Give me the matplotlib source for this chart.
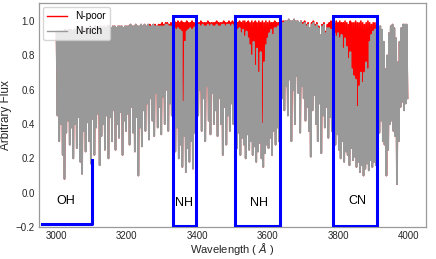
import numpy as np
import matplotlib
matplotlib.use("Agg")
import matplotlib.pyplot as plt
from matplotlib.patches import Rectangle

plt.rcParams['font.family'] = ['Liberation Sans', 'DejaVu Sans']

# Spectrum sampled every 5 A from 3000 A; each sample is the upper envelope
# (pseudo-continuum) and the deepest line core inside that 5 A bin.
wave_start, wave_step = 3000, 5

poor_top = [
    0.93, 0.94, 0.93, 0.94, 0.94, 0.95, 0.94, 0.95, 0.95, 0.94,
    0.95, 0.95, 0.96, 0.95, 0.95, 0.96, 0.95, 0.96, 0.96, 0.95,
    0.96, 0.96, 0.97, 0.96, 0.96, 0.97, 0.96, 0.97, 0.96, 0.97,
    0.97, 0.96, 0.97, 0.97, 0.96, 0.97, 0.97, 0.97, 0.96, 0.97,
    0.97, 0.97, 0.98, 0.97, 0.97, 0.98, 0.97, 0.97, 0.98, 0.97,
    0.98, 0.97, 0.98, 0.98, 0.97, 0.98, 0.98, 0.97, 0.98, 0.98,
    0.99, 0.98, 0.99, 0.99, 0.98, 0.99, 0.99, 1.00, 0.99, 1.00,
    0.99, 1.00, 0.99, 0.99, 1.00, 0.99, 0.99, 1.00, 0.99, 0.99,
    0.99, 0.99, 1.00, 0.99, 0.99, 0.99, 1.00, 0.99, 0.99, 0.99,
    0.99, 1.00, 0.99, 0.99, 0.99, 1.00, 0.99, 0.99, 1.00, 0.99,
    1.00, 0.99, 1.00, 0.99, 1.00, 0.99, 1.00, 1.00, 0.99, 1.00,
    0.99, 1.00, 0.99, 1.00, 0.99, 1.00, 0.99, 1.00, 0.99, 1.00,
    0.99, 1.00, 0.99, 0.99, 1.00, 0.99, 0.99, 1.00, 1.00, 1.00,
    1.00, 1.00, 1.01, 1.00, 1.00, 1.01, 1.00, 1.00, 0.99, 1.00,
    0.99, 1.00, 0.98, 0.99, 0.96, 0.99, 1.00, 0.98, 0.99, 0.97,
    0.92, 0.98, 0.99, 0.94, 0.98, 0.99, 1.00, 0.99, 0.99, 1.00,
    0.99, 1.00, 0.99, 0.99, 1.00, 0.99, 0.98, 1.00, 0.99, 0.99,
    1.00, 0.99, 0.99, 1.00, 0.99, 0.98, 0.99, 1.00, 0.99, 0.98,
    0.99, 0.99, 0.98, 0.97, 0.97, 0.95, 0.88, 0.72, 0.80, 0.93,
    0.97, 0.98, 0.96, 0.90, 0.76, 0.88, 0.96, 0.98, 0.98, 0.98,
]

rich_top = [
    0.93, 0.94, 0.93, 0.94, 0.94, 0.95, 0.94, 0.95, 0.95, 0.94,
    0.95, 0.95, 0.96, 0.95, 0.95, 0.96, 0.95, 0.96, 0.96, 0.95,
    0.96, 0.96, 0.97, 0.96, 0.96, 0.97, 0.96, 0.97, 0.96, 0.97,
    0.97, 0.96, 0.97, 0.97, 0.96, 0.97, 0.97, 0.97, 0.96, 0.97,
    0.97, 0.97, 0.98, 0.97, 0.97, 0.98, 0.97, 0.97, 0.98, 0.97,
    0.98, 0.97, 0.98, 0.97, 0.97, 0.98, 0.97, 0.97, 0.97, 0.97,
    0.97, 0.97, 0.98, 0.98, 0.97, 0.97, 0.97, 0.96, 0.95, 0.96,
    0.95, 0.94, 0.53, 0.88, 0.94, 0.95, 0.96, 0.95, 0.96, 0.97,
    0.97, 0.98, 0.97, 0.98, 0.97, 0.97, 0.98, 0.97, 0.98, 0.97,
    0.97, 0.98, 0.97, 0.97, 0.98, 0.98, 0.97, 0.98, 0.98, 0.97,
    0.98, 0.97, 0.96, 0.95, 0.96, 0.93, 0.95, 0.91, 0.94, 0.90,
    0.86, 0.80, 0.88, 0.74, 0.84, 0.70, 0.82, 0.40, 0.76, 0.86,
    0.90, 0.93, 0.95, 0.92, 0.96, 0.96, 0.97, 0.97, 0.99, 0.99,
    1.00, 1.00, 1.01, 1.00, 1.00, 1.01, 1.00, 1.00, 0.99, 1.00,
    0.98, 0.99, 0.97, 0.98, 0.96, 0.98, 0.99, 0.97, 0.98, 0.96,
    0.92, 0.97, 0.98, 0.93, 0.96, 0.96, 0.95, 0.94, 0.93, 0.91,
    0.93, 0.90, 0.92, 0.84, 0.90, 0.85, 0.78, 0.82, 0.72, 0.68,
    0.66, 0.50, 0.62, 0.70, 0.64, 0.70, 0.76, 0.72, 0.88, 0.92,
    0.94, 0.95, 0.96, 0.97, 0.97, 0.95, 0.88, 0.72, 0.80, 0.93,
    0.97, 0.98, 0.96, 0.90, 0.76, 0.88, 0.96, 0.98, 0.98, 0.98,
]

rich_low = [
    0.45, 0.30, 0.40, 0.22, 0.08, 0.35, 0.42, 0.28, 0.38, 0.20,
    0.40, 0.26, 0.44, 0.18, 0.11, 0.36, 0.24, 0.41, 0.30, 0.17,
    0.43, 0.22, 0.38, 0.46, 0.16, 0.33, 0.40, 0.25, 0.45, 0.20,
    0.44, 0.30, 0.48, 0.25, 0.40, 0.32, 0.47, 0.22, 0.42, 0.36,
    0.46, 0.28, 0.50, 0.35, 0.24, 0.44, 0.10, 0.38, 0.27, 0.48,
    0.36, 0.52, 0.31, 0.55, 0.42, 0.33, 0.58, 0.38, 0.50, 0.34,
    0.56, 0.40, 0.60, 0.36, 0.52, 0.45, 0.32, 0.24, 0.38, 0.20,
    0.28, 0.15, 0.33, 0.12, 0.26, 0.18, 0.30, 0.14, 0.35, 0.22,
    0.45, 0.60, 0.36, 0.55, 0.30, 0.62, 0.42, 0.34, 0.58, 0.40,
    0.48, 0.33, 0.55, 0.40, 0.22, 0.50, 0.28, 0.45, 0.36, 0.52,
    0.40, 0.30, 0.26, 0.35, 0.22, 0.32, 0.28, 0.20, 0.34, 0.25,
    0.30, 0.22, 0.27, 0.18, 0.24, 0.29, 0.20, 0.15, 0.23, 0.28,
    0.26, 0.32, 0.22, 0.36, 0.28, 0.38, 0.30, 0.42, 0.55, 0.48,
    0.62, 0.45, 0.66, 0.30, 0.60, 0.40, 0.68, 0.58, 0.35, 0.62,
    0.55, 0.42, 0.50, 0.36, 0.21, 0.48, 0.57, 0.40, 0.30, 0.52,
    0.23, 0.45, 0.38, 0.50, 0.32, 0.44, 0.36, 0.30, 0.28, 0.34,
    0.25, 0.20, 0.30, 0.18, 0.24, 0.22, 0.16, 0.26, 0.19, 0.21,
    0.15, 0.18, 0.12, 0.16, 0.10, 0.14, 0.17, 0.13, 0.19, 0.15,
    0.18, 0.16, 0.22, 0.35, 0.42, 0.30, 0.28, 0.10, 0.25, 0.40,
    0.42, 0.36, 0.33, 0.05, 0.30, 0.50, 0.53, 0.48, 0.52, 0.55,
]
# the N-poor line cores lie under the N-rich ones everywhere
poor_low = rich_low

# feature boxes
box_left = [3330, 3506, 3787]
box_right = [3397, 3636, 3911]
box_bottom = -0.195
box_top = 1.03
oh_x = [2958, 3100, 3100]
oh_y = [-0.183, -0.183, 0.19]
labels = ['OH', 'NH', 'NH', 'CN']
label_x = [3025, 3362, 3574, 3856]
label_y = [-0.05, -0.06, -0.06, -0.05]


def zigzag(top, low):
    wl = np.arange(len(top)) * wave_step + wave_start
    x = np.column_stack([wl, wl + wave_step / 2]).ravel()
    y = np.column_stack([top, low]).ravel()
    return x, y


fig = plt.figure(figsize=(4.36, 2.59), dpi=100)
ax = fig.add_axes([0.0894, 0.1236, 0.8876, 0.8644])

x, y = zigzag(poor_top, poor_low)
ax.plot(x, y, color='red', lw=1.2, label='N-poor')
x, y = zigzag(rich_top, rich_low)
ax.plot(x, y, color='#999999', lw=1.3, label='N-rich')

for l, r in zip(box_left, box_right):
    ax.add_patch(Rectangle((l, box_bottom), r - l, box_top - box_bottom,
                           fill=False, edgecolor='blue', lw=2.2, zorder=5))
ax.plot(oh_x, oh_y, color='blue', lw=2.2, zorder=5)

for t, lx, ly in zip(labels, label_x, label_y):
    ax.text(lx, ly, t, ha='center', va='center', fontsize=9, color='black')

ax.set_xlim(2950, 4050)
ax.set_ylim(-0.2, 1.105)
ax.set_xticks([3000, 3200, 3400, 3600, 3800, 4000])
ax.set_yticks([-0.2, 0.0, 0.2, 0.4, 0.6, 0.8, 1.0])
ax.tick_params(length=0, labelsize=7, colors='#262626', pad=3)
for s in ax.spines.values():
    s.set_color('#9a9a9a')
    s.set_linewidth(0.9)
ax.set_xlabel(r'Wavelength ( $\AA$ )', fontsize=8, color='#262626', labelpad=0)
ax.set_ylabel('Arbitrary Flux', fontsize=8.5, color='#262626', labelpad=3)

leg = ax.legend(loc='upper left', fontsize=7.3, handlelength=2.0,
                borderaxespad=0.4, framealpha=0.8, edgecolor='#cccccc')
for h in leg.get_lines():
    h.set_linewidth(1.0)

fig.savefig('out.png', dpi=100)
